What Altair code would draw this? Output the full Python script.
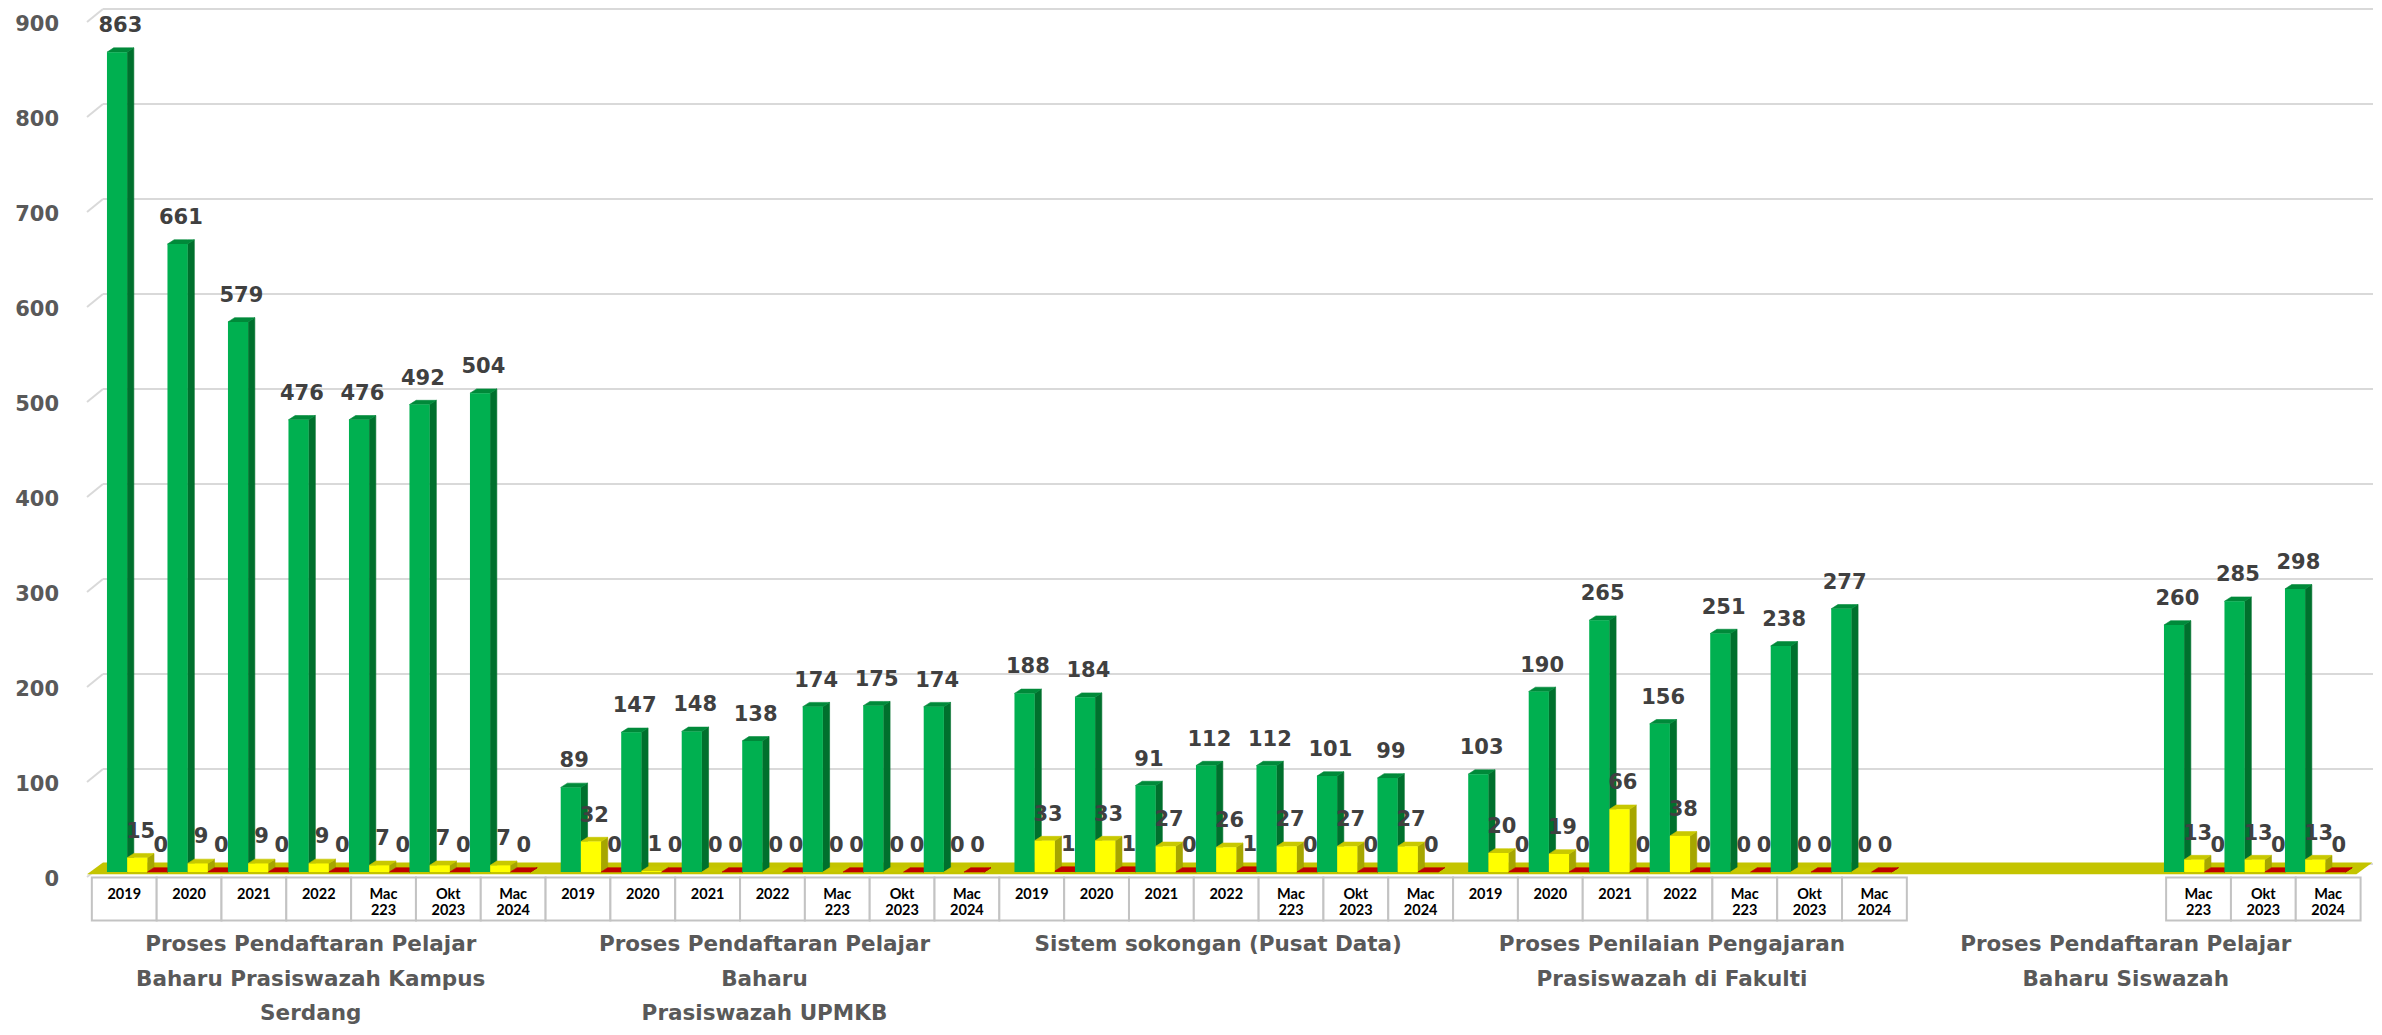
import altair as alt
import pandas as pd

# ---------------- data ----------------
group_titles = [
    ["Proses Pendaftaran Pelajar", "Baharu  Prasiswazah Kampus", "Serdang"],
    ["Proses Pendaftaran Pelajar", "Baharu", "Prasiswazah UPMKB"],
    ["Sistem sokongan (Pusat Data)"],
    ["Proses Penilaian Pengajaran", "Prasiswazah di Fakulti"],
    ["Proses Pendaftaran Pelajar", "Baharu Siswazah"],
]
periods = [["2019"], ["2020"], ["2021"], ["2022"], ["Mac", "223"], ["Okt", "2023"], ["Mac", "2024"]]

green = [
    [863, 661, 579, 476, 476, 492, 504],
    [89, 147, 148, 138, 174, 175, 174],
    [188, 184, 91, 112, 112, 101, 99],
    [103, 190, 265, 156, 251, 238, 277],
    [None, None, None, None, 260, 285, 298],
]
yellow = [
    [15, 9, 9, 9, 7, 7, 7],
    [32, 1, 0, 0, 0, 0, 0],
    [33, 33, 27, 26, 27, 27, 27],
    [20, 19, 66, 38, 0, 0, 0],
    [None, None, None, None, 13, 13, 13],
]
red = [
    [0, 0, 0, 0, 0, 0, 0],
    [0, 0, 0, 0, 0, 0, 0],
    [1, 1, 0, 1, 0, 0, 0],
    [0, 0, 0, 0, 0, 0, 0],
    [None, None, None, None, 0, 0, 0],
]
y_ticks = [0, 100, 200, 300, 400, 500, 600, 700, 800, 900]

# ---------------- geometry / style ----------------
W, H = 2286, 855
PXX = 1 / 60.5          # x units per pixel
PXY = 900 / H           # y units per pixel
XMIN = -0.33
XMAX = XMIN + W * PXX
STEP = 7.5              # slots per group incl. gap
SW = 1 / 3              # bar width (units)
DX = 6.7 * PXX          # 3D depth
DY = 4.3 * PXY
BACK = 8 * PXY          # back-wall offset for gridlines
XBACK = XMIN + 16 * PXX

FONT = "DejaVu Sans"
series = [
    (green, "#00B050", "#00702D", "#008A3A"),
    (yellow, "#FFFF00", "#A6A600", "#C8C800"),
    (red, "#C00000", "#8A0000", "#C00000"),
]

xs = alt.Scale(domain=[XMIN, XMAX], nice=False, zero=False)
ys = alt.Scale(domain=[0, 900], nice=False, zero=False)

front_rows, side_rows, top_rows, label_rows = [], [], [], []
for g in range(5):
    for i in range(7):
        for s, (vals, cf, cs, ct) in enumerate(series):
            v = vals[g][i]
            if v is None:
                continue
            x0 = g * STEP + i + s * SW
            x1 = x0 + SW
            bid = f"{g}-{i}-{s}"
            front_rows.append(dict(x=x0, x2=x1, y=0, y2=v, c=cf))
            side_rows += [
                dict(id=bid, x=x1, y=0, y2=v, c=cs),
                dict(id=bid, x=x1 + DX, y=DY, y2=v + DY, c=cs),
            ]
            top_rows += [
                dict(id=bid, x=x0, y=v, y2=v, c=ct),
                dict(id=bid, x=x0 + DX, y=v, y2=v + DY, c=ct),
                dict(id=bid, x=x1, y=v, y2=v + DY, c=ct),
                dict(id=bid, x=x1 + DX, y=v + DY, y2=v + DY, c=ct),
            ]
            label_rows.append(dict(x=(x0 + x1 + DX) / 2, y=v, t=str(v)))

front_df = pd.DataFrame(front_rows)
side_df = pd.DataFrame(side_rows)
top_df = pd.DataFrame(top_rows)
label_df = pd.DataFrame(label_rows)

grid_df = pd.DataFrame({"v": y_ticks})
grid_df["yb"] = grid_df["v"] + BACK
grid_df["ys0"] = grid_df["yb"] - 13 * PXY
grid_df["yl"] = grid_df["v"] - 7.7 * PXY
grid_df["xa"] = XBACK
grid_df["xb"] = XMAX
grid_df["xs0"] = XMIN
grid_df["t"] = grid_df["v"].astype(str)

fb, ft = -2.2 * PXY, 9.5 * PXY
floor_df = pd.DataFrame([
    dict(x=XMIN, y=fb, y2=fb),
    dict(x=XMIN + 16 * PXX, y=fb, y2=ft),
    dict(x=XMAX - 0.01 - 16 * PXX, y=fb, y2=ft),
    dict(x=XMAX - 0.01, y=ft, y2=ft),
])

box_rows, box_text_rows, title_rows = [], [], []
BW = STEP / 7
for g in range(5):
    for i in range(7):
        if green[g][i] is None:
            continue
        cx = g * STEP + 3.5 + (i - 3) * BW
        box_rows.append(dict(x=cx - BW / 2, x2=cx + BW / 2, y=-5.5 * PXY, y2=-48.5 * PXY))
        for k, line in enumerate(periods[i]):
            box_text_rows.append(dict(x=cx, y=-(22.5 + 16.5 * k) * PXY, t=line))
    for k, line in enumerate(group_titles[g]):
        title_rows.append(dict(x=g * STEP + 3.5 - 8 * PXX, y=-(73 + 34.5 * k) * PXY, t=line))

box_df = pd.DataFrame(box_rows)
box_text_df = pd.DataFrame(box_text_rows)
title_df = pd.DataFrame(title_rows)

X = lambda f: alt.X(f, scale=xs, axis=None)
Y = lambda f: alt.Y(f, scale=ys, axis=None)

grid = alt.Chart(grid_df).mark_rule(color="#D9D9D9", strokeWidth=2).encode(
    x=X("xa:Q"), x2="xb:Q", y=Y("yb:Q"))
stub = alt.Chart(grid_df).mark_rule(color="#D9D9D9", strokeWidth=2).encode(
    x=X("xs0:Q"), y=Y("ys0:Q"), x2="xa:Q", y2="yb:Q")
ylab = alt.Chart(grid_df).mark_text(
    font=FONT, fontSize=21, fontWeight="bold", color="#595959",
    align="right", baseline="middle", dx=-28).encode(x=X("xs0:Q"), y=Y("yl:Q"), text="t:N")

floor = alt.Chart(floor_df).mark_area(color="#C4C400", orient="vertical").encode(
    x=X("x:Q"), y=Y("y:Q"), y2="y2:Q")

side = alt.Chart(side_df).mark_area(orient="vertical", strokeWidth=0.6).encode(
    x=X("x:Q"), y=Y("y:Q"), y2="y2:Q", detail="id:N",
    color=alt.Color("c:N", scale=None), stroke=alt.Stroke("c:N", scale=None))
top = alt.Chart(top_df).mark_area(orient="vertical", strokeWidth=0.6).encode(
    x=X("x:Q"), y=Y("y:Q"), y2="y2:Q", detail="id:N",
    color=alt.Color("c:N", scale=None), stroke=alt.Stroke("c:N", scale=None))
front = alt.Chart(front_df).mark_rect().encode(
    x=X("x:Q"), x2="x2:Q", y=Y("y:Q"), y2="y2:Q",
    color=alt.Color("c:N", scale=None))

labels = alt.Chart(label_df).mark_text(
    font=FONT, fontSize=21, fontWeight="bold", color="#404040",
    align="center", baseline="alphabetic", dy=-20).encode(
    x=X("x:Q"), y=Y("y:Q"), text="t:N")

boxes = alt.Chart(box_df).mark_rect(fill="white", stroke="#C3C3C3", strokeWidth=2).encode(
    x=X("x:Q"), x2="x2:Q", y=Y("y:Q"), y2="y2:Q")
box_text = alt.Chart(box_text_df).mark_text(
    font="Lato", fontSize=14.5, fontWeight="bold", color="#000000",
    align="center", baseline="middle").encode(x=X("x:Q"), y=Y("y:Q"), text="t:N")
titles = alt.Chart(title_df).mark_text(
    font=FONT, fontSize=21.5, fontWeight="bold", color="#595959",
    align="center", baseline="middle").encode(x=X("x:Q"), y=Y("y:Q"), text="t:N")

chart = alt.layer(
    grid, stub, floor, side, top, front, labels, ylab, boxes, box_text, titles
).properties(
    width=W, height=H,
    padding={"left": 79, "top": 9, "right": 1, "bottom": 155},
    autosize=alt.AutoSizeParams(type="none"),
).configure_view(stroke=None)

chart.save("out.html", embed_options={"renderer": "svg", "actions": False})
